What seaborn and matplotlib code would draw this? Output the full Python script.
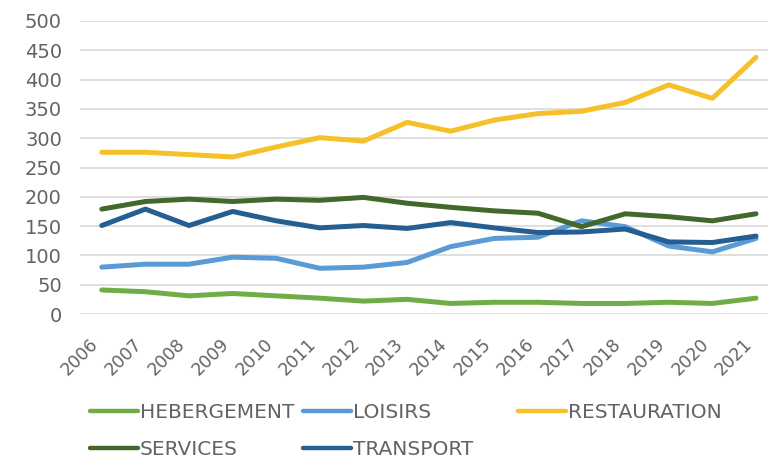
import matplotlib
matplotlib.use("Agg")
import matplotlib.pyplot as plt
import seaborn as sns
import pandas as pd

years = list(range(2006, 2022))
hebergement = [41, 38, 31, 35, 31, 27, 22, 25, 18, 20, 20, 18, 18, 20, 18, 27]
loisirs = [80, 85, 85, 97, 95, 78, 80, 88, 115, 129, 131, 159, 149, 116, 106, 129]
restauration = [276, 276, 272, 268, 285, 301, 295, 327, 312, 331, 342, 346, 361, 391, 368, 438]
services = [179, 192, 196, 192, 196, 194, 199, 189, 182, 176, 172, 149, 171, 166, 159, 171]
transport = [151, 179, 151, 175, 159, 147, 151, 146, 156, 147, 139, 140, 145, 123, 122, 133]

series_names = ["HEBERGEMENT", "LOISIRS", "RESTAURATION", "SERVICES", "TRANSPORT"]
series_values = [hebergement, loisirs, restauration, services, transport]
colors = ["#70AD47", "#5B9BD5", "#F6C02A", "#43682B", "#255E91"]
y_ticks = list(range(0, 501, 50))

rows = []
for name, vals in zip(series_names, series_values):
    for yr, v in zip(years, vals):
        rows.append({"Année": yr, "Valeur": v, "Secteur": name})
df = pd.DataFrame(rows)

sns.set_style("white")
plt.rcParams["font.family"] = ["DejaVu Sans"]
text_color = "#636363"

fig = plt.figure(figsize=(7.69, 4.59), dpi=100)
ax = fig.add_axes([80 / 769, 1 - 314 / 459, 688 / 769, 293 / 459])

sns.lineplot(data=df, x="Année", y="Valeur", hue="Secteur", hue_order=series_names,
             palette=colors, linewidth=3.6, ax=ax, sort=False)

ax.set_xlim(2005.5, 2021.275)
ax.set_ylim(0, 500)
ax.set_yticks(y_ticks)
ax.set_xticks(years)
ax.set_xticklabels([str(y) for y in years], rotation=45, ha="right")
ax.set_xlabel("")
ax.set_ylabel("")
ax.grid(axis="y", color="#D9D9D9", linewidth=1.2)
ax.grid(axis="x", visible=False)
ax.set_axisbelow(True)
for s in ax.spines.values():
    s.set_visible(False)
ax.tick_params(axis="y", labelsize=14, labelcolor=text_color, length=0, pad=13)
ax.tick_params(axis="x", labelsize=12.5, labelcolor=text_color, length=0, pad=15)

handles, labels = ax.get_legend_handles_labels()
ax.get_legend().remove()
lookup = dict(zip(labels, handles))

# Legend laid out in three columns beneath the plot
columns = [(90, ["HEBERGEMENT", "SERVICES"]),
           (303, ["LOISIRS", "TRANSPORT"]),
           (518, ["RESTAURATION"])]
for x0, names in columns:
    leg = fig.legend([lookup[n] for n in names], names,
                     loc="upper left", bbox_to_anchor=(x0 / 769, 1 - 403 / 459),
                     frameon=False, fontsize=14.5, handlelength=2.4,
                     handletextpad=0.08, labelspacing=0.88, borderpad=0,
                     borderaxespad=0)
    for line in leg.get_lines():
        line.set_linewidth(3.2)
    for t in leg.get_texts():
        t.set_color(text_color)

fig.savefig("out.png", dpi=100)
